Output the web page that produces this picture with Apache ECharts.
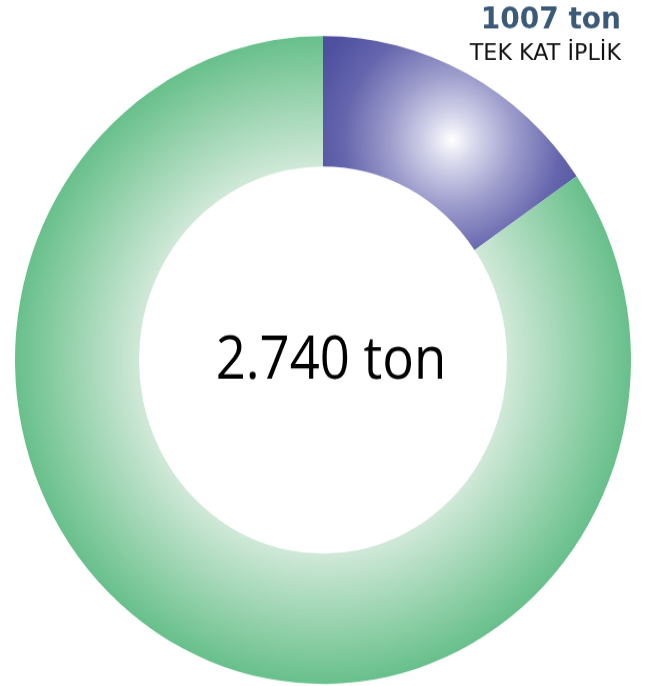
<!DOCTYPE html>
<html>
<head>
<meta charset="utf-8">
<script src="https://cdn.jsdelivr.net/npm/echarts@6/dist/echarts.min.js"></script>
<style>
  html, body { margin: 0; padding: 0; background: #ffffff; width: 656px; height: 686px; overflow: hidden; }
  #wrap { position: relative; width: 656px; height: 686px; overflow: hidden; }
  #main { position: absolute; left: 0; top: 0; width: 656px; height: 652px; transform: scaleY(1.0519); transform-origin: 0 0; }
</style>
</head>
<body>
<div id="wrap"><div id="main"></div></div>
<script>
// Data (slice shares in percent of the ring)
const categories = ['TEK KAT İPLİK', 'Diğer'];
const shares = [15.4, 84.6];
const totalLabel = '2.740 ton';
const highlightValue = '1007 ton';
const highlightName = 'TEK KAT İPLİK';

const chart = echarts.init(document.getElementById('main'), null, { renderer: 'canvas' });

const CX = 323, CY = 342.2, R_IN = 184, R_OUT = 308;

const blueGrad = {
  type: 'radial', x: 452, y: 133, r: 150, global: true,
  colorStops: [
    { offset: 0, color: '#ffffff' },
    { offset: 0.15, color: '#d8d8ed' },
    { offset: 0.42, color: '#9c9ccc' },
    { offset: 0.72, color: '#6666ae' },
    { offset: 1, color: '#4e509f' }
  ]
};
const greenGrad = {
  type: 'radial', x: CX, y: CY, r: R_OUT, global: true,
  colorStops: [
    { offset: 0, color: '#e6f4ea' },
    { offset: R_IN / R_OUT, color: '#d0e9d8' },
    { offset: 1, color: '#68c08b' }
  ]
};
const fills = [blueGrad, greenGrad];

chart.setOption({
  animation: false,
  series: [{
    type: 'pie',
    center: [CX, CY],
    radius: [R_IN, R_OUT],
    startAngle: 90,
    clockwise: true,
    silent: true,
    label: { show: false },
    labelLine: { show: false },
    emphasis: { disabled: true },
    itemStyle: { borderWidth: 0 },
    data: categories.map((name, i) => ({ name: name, value: shares[i], itemStyle: { color: fills[i] } }))
  }],
  graphic: [
    {
      type: 'text', x: 331, y: 344, scaleX: 0.94, silent: true,
      style: { text: totalLabel, fill: '#000000', font: '56px "Open Sans"', fontFamily: 'Open Sans', fontSize: 56,
               align: 'center', textAlign: 'center', verticalAlign: 'middle', textVerticalAlign: 'middle' }
    },
    {
      type: 'text', x: 621, y: 20, silent: true,
      style: { text: highlightValue, fill: '#3a5a77', font: 'bold 28px "DejaVu Sans"', fontFamily: 'DejaVu Sans', fontWeight: 'bold', fontSize: 28,
               align: 'right', textAlign: 'right', verticalAlign: 'middle', textVerticalAlign: 'middle' }
    },
    {
      type: 'text', x: 621, y: 52, scaleX: 1.06, silent: true,
      style: { text: highlightName, fill: '#111111', font: '21px "DejaVu Sans"', fontFamily: 'DejaVu Sans', fontSize: 21,
               align: 'right', textAlign: 'right', verticalAlign: 'middle', textVerticalAlign: 'middle' }
    }
  ]
});
</script>
</body>
</html>
